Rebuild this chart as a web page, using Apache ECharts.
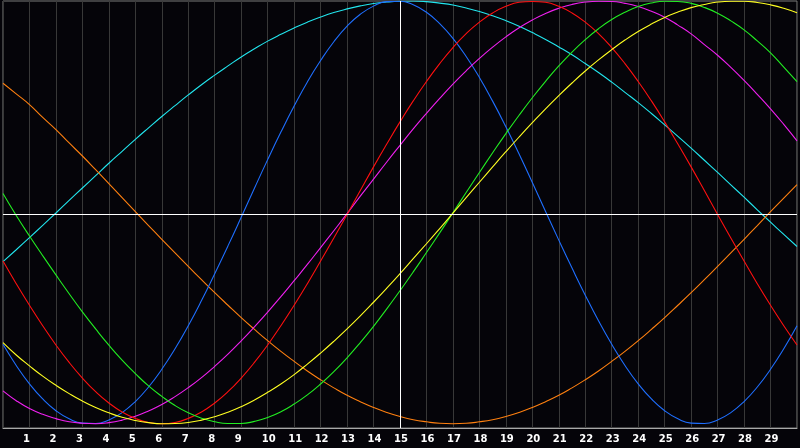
<!DOCTYPE html>
<html>
<head>
<meta charset="utf-8">
<script src="https://cdn.jsdelivr.net/npm/echarts@6/dist/echarts.min.js"></script>
<style>
html,body{margin:0;padding:0;background:#050409;}
#chart{width:800px;height:448px;}
</style>
</head>
<body>
<div id="chart"></div>
<script>
const days = [0,0.5,1,1.5,2,2.5,3,3.5,4,4.5,5,5.5,6,6.5,7,7.5,8,8.5,9,9.5,10,10.5,11,11.5,12,12.5,13,13.5,14,14.5,15,15.5,16,16.5,17,17.5,18,18.5,19,19.5,20,20.5,21,21.5,22,22.5,23,23.5,24,24.5,25,25.5,26,26.5,27,27.5,28,28.5,29,29.5,30];
const tickLabels = ['1','2','3','4','5','6','7','8','9','10','11','12','13','14','15','16','17','18','19','20','21','22','23','24','25','26','27','28','29'];

const cyanValues = [-0.221,-0.165,-0.108,-0.051,0.007,0.066,0.124,0.182,0.240,0.296,0.352,0.406,0.459,0.510,0.560,0.608,0.653,0.696,0.738,0.776,0.812,0.844,0.874,0.901,0.925,0.946,0.963,0.977,0.988,0.995,0.999,1.000,0.997,0.990,0.981,0.967,0.951,0.931,0.908,0.882,0.852,0.820,0.785,0.748,0.707,0.665,0.620,0.572,0.524,0.473,0.420,0.366,0.311,0.254,0.197,0.139,0.081,0.022,-0.036,-0.093,-0.150];
const blueValues = [-0.608,-0.707,-0.793,-0.864,-0.919,-0.957,-0.977,-0.979,-0.962,-0.928,-0.876,-0.808,-0.725,-0.629,-0.521,-0.403,-0.277,-0.147,-0.013,0.123,0.257,0.386,0.508,0.621,0.721,0.809,0.882,0.938,0.976,0.997,0.999,0.982,0.947,0.894,0.825,0.740,0.642,0.531,0.411,0.283,0.150,0.014,-0.120,-0.251,-0.378,-0.498,-0.608,-0.707,-0.793,-0.864,-0.919,-0.957,-0.977,-0.979,-0.962,-0.928,-0.876,-0.808,-0.725,-0.629,-0.521];
const redValues = [-0.218,-0.324,-0.425,-0.521,-0.611,-0.693,-0.766,-0.830,-0.883,-0.925,-0.955,-0.974,-0.980,-0.974,-0.955,-0.925,-0.883,-0.830,-0.766,-0.693,-0.611,-0.521,-0.425,-0.324,-0.218,-0.110,0,0.112,0.223,0.330,0.434,0.532,0.623,0.707,0.782,0.847,0.901,0.944,0.975,0.994,0.998,0.994,0.975,0.944,0.901,0.847,0.782,0.707,0.623,0.532,0.434,0.330,0.223,0.112,0,-0.110,-0.218,-0.324,-0.425,-0.521,-0.611];
const magentaValues = [-0.826,-0.872,-0.909,-0.936,-0.956,-0.971,-0.978,-0.980,-0.975,-0.963,-0.945,-0.920,-0.890,-0.853,-0.811,-0.764,-0.711,-0.654,-0.592,-0.526,-0.457,-0.385,-0.310,-0.234,-0.155,-0.076,0.004,0.086,0.166,0.246,0.324,0.401,0.474,0.544,0.611,0.673,0.731,0.784,0.832,0.875,0.911,0.942,0.966,0.984,0.995,0.999,0.998,0.989,0.974,0.952,0.924,0.887,0.846,0.796,0.746,0.689,0.628,0.563,0.495,0.422,0.345];
const greenValues = [0.098,-0.005,-0.101,-0.193,-0.283,-0.371,-0.456,-0.536,-0.612,-0.682,-0.745,-0.803,-0.852,-0.895,-0.929,-0.954,-0.971,-0.979,-0.979,-0.969,-0.951,-0.924,-0.888,-0.845,-0.794,-0.736,-0.671,-0.600,-0.524,-0.442,-0.357,-0.269,-0.178,-0.086,0.008,0.103,0.197,0.289,0.379,0.465,0.547,0.624,0.696,0.761,0.819,0.870,0.913,0.947,0.974,0.991,0.999,0.998,0.989,0.970,0.943,0.907,0.865,0.813,0.757,0.690,0.622];
const yellowValues = [-0.600,-0.658,-0.709,-0.757,-0.800,-0.839,-0.874,-0.904,-0.929,-0.950,-0.965,-0.975,-0.980,-0.979,-0.974,-0.963,-0.947,-0.926,-0.900,-0.869,-0.833,-0.794,-0.750,-0.701,-0.649,-0.594,-0.536,-0.475,-0.411,-0.345,-0.277,-0.207,-0.137,-0.066,0.006,0.079,0.151,0.223,0.294,0.363,0.430,0.495,0.557,0.616,0.672,0.724,0.772,0.817,0.857,0.892,0.923,0.948,0.969,0.984,0.995,0.999,0.999,0.993,0.982,0.966,0.945];
const orangeValues = [0.615,0.565,0.515,0.455,0.398,0.335,0.274,0.210,0.145,0.079,0.013,-0.052,-0.116,-0.180,-0.243,-0.305,-0.366,-0.425,-0.483,-0.538,-0.591,-0.641,-0.688,-0.733,-0.774,-0.812,-0.847,-0.877,-0.904,-0.927,-0.946,-0.961,-0.971,-0.978,-0.980,-0.978,-0.971,-0.961,-0.946,-0.927,-0.904,-0.877,-0.847,-0.812,-0.774,-0.733,-0.688,-0.641,-0.591,-0.538,-0.483,-0.425,-0.366,-0.305,-0.243,-0.180,-0.116,-0.052,0.013,0.077,0.140];

const seriesDefs = [
  {name:'cyan', values: cyanValues, color:'#22e6ee'},
  {name:'orange', values: orangeValues, color:'#ff8010'},
  {name:'blue', values: blueValues, color:'#1f6fff'},
  {name:'magenta', values: magentaValues, color:'#f020f0'},
  {name:'red', values: redValues, color:'#ff1010'},
  {name:'green', values: greenValues, color:'#22ee22'},
  {name:'yellow', values: yellowValues, color:'#ffff22'}
];

const chart = echarts.init(document.getElementById('chart'), null, {renderer:'canvas'});

const series = [{
  type:'line', data: [], silent: true,
  markLine: {
    silent: true, symbol: ['none','none'], label:{show:false},
    lineStyle:{color:'#ffffff', width:1, type:'solid'},
    emphasis:{disabled:true},
    data: [{xAxis: 15}, {yAxis: 0}]
  }
}];
seriesDefs.forEach(s => {
  series.push({
    name: s.name, type:'line', smooth: 0.5, showSymbol:false, symbol:'none',
    lineStyle:{color:s.color, width:1.1}, itemStyle:{color:s.color},
    data: days.map((d,i) => [d, s.values[i]])
  });
});

const labelFont = {color:'#ffffff', fontWeight:'bold', fontSize:10, fontFamily:'DejaVu Sans'};

chart.setOption({
  backgroundColor:'#050409',
  animation:false,
  grid:{left:0, right:0, top:1, bottom:20, show:true, borderColor:'#7a7a7a', borderWidth:1, backgroundColor:'#050409'},
  xAxis:{
    type:'value', min:0, max:30, interval:1,
    axisLine:{show:true, onZero:false, lineStyle:{color:'#a8a8a8', width:1}},
    axisTick:{show:false},
    splitLine:{show:true, lineStyle:{color:'#383838', width:1}},
    axisLabel:{
      margin:6, align:'center',
      color:'#ffffff', fontWeight:'bold', fontSize:10, fontFamily:'DejaVu Sans',
      formatter: v => {
        if (v < 1 || v > 29) return '';
        const t = tickLabels[v-1];
        return t.length === 1 ? '{s|' + t + '}' : '{d|' + t + '}';
      },
      rich: {
        s: Object.assign({padding:[0,6,0,0]}, labelFont),
        d: Object.assign({padding:[0,0,0,2]}, labelFont)
      }
    }
  },
  yAxis:{
    type:'value', min:-1, max:1,
    axisLine:{show:false}, axisTick:{show:false}, axisLabel:{show:false}, splitLine:{show:false}
  },
  series: series
});
</script>
</body>
</html>
